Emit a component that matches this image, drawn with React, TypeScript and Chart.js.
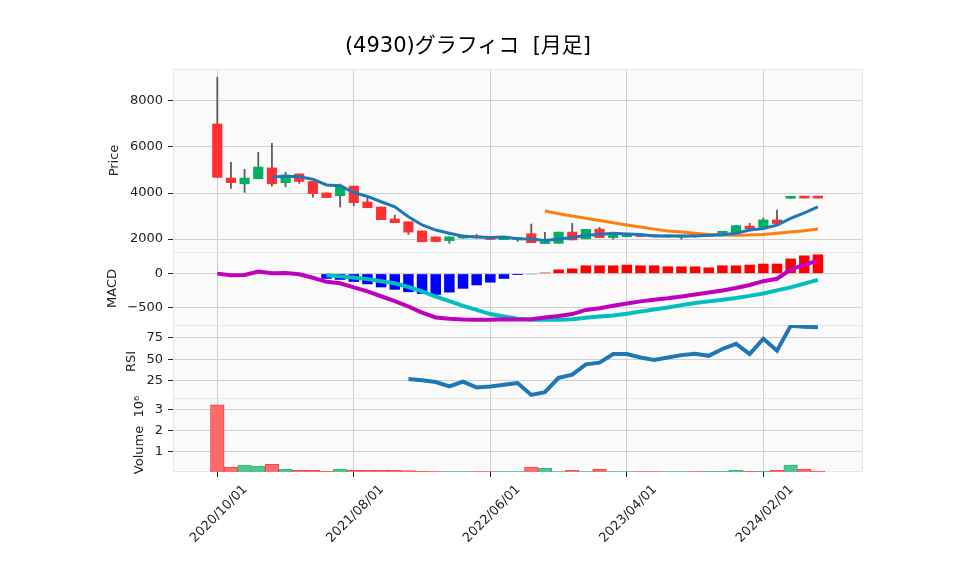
import { useEffect, useRef } from 'react';
import { Chart, registerables } from 'chart.js';
Chart.register(...registerables);

// ---- data (monthly candles 2020/10 .. 2024/06) ----
const tickIdx = [0, 10, 20, 30, 40];
const tickLabels = ['2020/10/01', '2021/08/01', '2022/06/01', '2023/04/01', '2024/02/01'];

const opens = [7000, 4650, 4400, 4620, 5090, 4450, 4830, 4500, 4000, 3880, 4300, 3610, 3390, 2870, 2750, 2350, 2090, 1930, 2040, 2130, 2060, 1970, 1980, 2230, 1800, 1810, 2300, 2010, 2430, 2060, 2100, 2150, 2120, 2090, 2080, 2100, 2120, 2250, 2290, 2560, 2520, 2830, 3770, 3780, 3780];
const highs = [9030, 5335, 5030, 5770, 6160, 4900, 4830, 4500, 4000, 4390, 4300, 3770, 3390, 3040, 2750, 2350, 2090, 2090, 2170, 2200, 2060, 2060, 2010, 2650, 2290, 2300, 2680, 2420, 2510, 2160, 2150, 2150, 2130, 2120, 2100, 2110, 2200, 2330, 2590, 2680, 2910, 3260, 3780, 3780, 3780];
const lows = [4680, 4200, 4030, 4620, 4300, 4270, 4420, 3810, 3800, 3390, 3450, 3360, 2840, 2710, 2200, 1880, 1880, 1810, 2040, 2050, 1970, 1970, 1900, 1840, 1800, 1810, 1960, 2010, 2060, 1990, 2100, 2110, 2090, 2080, 1990, 2090, 2120, 2250, 2290, 2450, 2520, 2670, 3770, 3780, 3780];
const closes = [4680, 4450, 4650, 5130, 4400, 4780, 4500, 3970, 3800, 4270, 3580, 3360, 2840, 2710, 2300, 1880, 1890, 2090, 2170, 2050, 1980, 2060, 2010, 1840, 1840, 2300, 1960, 2420, 2060, 2160, 2140, 2110, 2100, 2110, 2090, 2100, 2150, 2320, 2580, 2450, 2830, 2670, 3780, 3780, 3780];
const volumes = [3.24, 0.23, 0.33, 0.28, 0.37, 0.13, 0.08, 0.08, 0.03, 0.13, 0.08, 0.08, 0.08, 0.08, 0.07, 0.03, 0.02, 0.02, 0.02, 0.02, 0.02, 0.02, 0.02, 0.24, 0.18, 0.02, 0.08, 0.02, 0.13, 0.02, 0.02, 0.02, 0.02, 0.02, 0.02, 0.02, 0.03, 0.03, 0.08, 0.03, 0.03, 0.08, 0.33, 0.13, 0.05];
const ma5 = [null, null, null, null, 4700, 4730, 4710, 4600, 4350, 4320, 4020, 3850, 3620, 3400, 2970, 2610, 2390, 2250, 2120, 2090, 2070, 2090, 2010, 2000, 1930, 2000, 2070, 2160, 2200, 2250, 2220, 2200, 2130, 2130, 2130, 2130, 2160, 2190, 2250, 2390, 2460, 2600, 2900, 3140, 3400];
const ma25 = [null, null, null, null, null, null, null, null, null, null, null, null, null, null, null, null, null, null, null, null, null, null, null, null, 3220, 3100, 3000, 2900, 2800, 2710, 2610, 2520, 2430, 2350, 2300, 2250, 2200, 2170, 2160, 2170, 2200, 2250, 2300, 2360, 2430];
const macdLine = [0, -25, -20, 30, 5, 10, -10, -60, -120, -140, -200, -260, -330, -400, -480, -570, -640, -660, -670, -675, -675, -665, -670, -665, -640, -620, -590, -530, -505, -470, -435, -405, -380, -360, -335, -305, -275, -245, -210, -165, -110, -75, 60, 130, 190];
const signalLine = [null, null, null, null, null, null, null, null, -25, -40, -55, -80, -110, -140, -195, -260, -335, -400, -470, -530, -590, -625, -660, -675, -675, -675, -665, -645, -625, -610, -585, -555, -525, -495, -460, -430, -405, -380, -355, -325, -290, -245, -200, -145, -90];
const histValues = [null, null, null, null, null, null, null, null, -75, -90, -120, -155, -200, -235, -270, -295, -310, -275, -220, -170, -130, -75, -20, -10, 15, 60, 75, 120, 120, 120, 130, 120, 120, 105, 105, 105, 90, 120, 120, 130, 145, 145, 220, 265, 280];
const rsiValues = [null, null, null, null, null, null, null, null, null, null, null, null, null, null, 27, 25.4, 23.4, 18.3, 23.8, 17, 18.2, 20.2, 22.2, 8.3, 11.5, 28.2, 32, 44, 46, 56, 56, 52, 49, 52, 54.8, 56.3, 54, 62, 68, 56, 74, 60, 89, 88, 87.3];

const priceTicks = [2000, 4000, 6000, 8000];
const macdTicks = [-500, 0];
const rsiTicks = [25, 50, 75];
const volTicks = [1, 2, 3];

const FONT = '"DejaVu Sans", "Noto Sans CJK JP", sans-serif';
const UP = '#00b060';
const DOWN = '#fe3032';

const axisTitles: [string, string][] = [
  ['yPrice', 'Price'],
  ['yMacd', 'MACD'],
  ['yRsi', 'RSI'],
  ['yVol', 'Volume  10\u2076'],
];

export default function App() {
  const ref = useRef<HTMLCanvasElement | null>(null);

  useEffect(() => {
    if (!ref.current) return;
    const isUp = (i: number) => closes[i] > opens[i];
    const pts = (arr: (number | null)[]) => arr.map((v, i) => ({ x: i, y: v }));

    const yAxis = (ticks: number[], min: number, max: number, weight: number, stackWeight: number, fmt?: (v: number) => string) => ({
      type: 'linear',
      position: 'left',
      stack: 'panels',
      stackWeight,
      weight,
      min,
      max,
      afterFit: (s: any) => { s.width = 173; },
      afterBuildTicks: (s: any) => { s.ticks = ticks.map((v) => ({ value: v })); },
      border: { display: false },
      grid: { color: '#d0d0d0', lineWidth: 1, tickColor: '#222', tickLength: 5 },
      ticks: {
        color: '#222',
        font: { family: FONT, size: 13 },
        padding: 5,
        callback: (v: number) => (fmt ? fmt(v) : String(v)),
      },
    });

    const bgPlugin = {
      id: 'bg',
      beforeDraw(chart: any) {
        const { ctx, chartArea: a } = chart;
        ctx.save();
        ctx.fillStyle = '#fafafa';
        ctx.fillRect(a.left, a.top, a.right - a.left, a.bottom - a.top);
        ctx.restore();
      },
      beforeDatasetsDraw(chart: any) {
        const { ctx, chartArea: a } = chart;
        ctx.save();
        ctx.strokeStyle = '#e6e6e6';
        ctx.lineWidth = 1;
        ['yPrice', 'yMacd', 'yRsi'].forEach((id) => {
          const s = chart.scales[id];
          ctx.beginPath();
          ctx.moveTo(a.left, Math.round(s.bottom) + 0.5);
          ctx.lineTo(a.right, Math.round(s.bottom) + 0.5);
          ctx.stroke();
        });
        ctx.strokeRect(a.left + 0.5, a.top + 0.5, a.right - a.left - 1, a.bottom - a.top - 1);
        ctx.restore();
      },
      afterDraw(chart: any) {
        const { ctx } = chart;
        ctx.save();
        ctx.font = `13px ${FONT}`;
        ctx.fillStyle = '#222';
        ctx.textAlign = 'center';
        ctx.textBaseline = 'middle';
        axisTitles.forEach(([id, text]) => {
          const s = chart.scales[id];
          let maxW = 0;
          s.ticks.forEach((t: any) => {
            const w = ctx.measureText(String(t.label)).width;
            if (w > maxW) maxW = w;
          });
          const x = s.right - 10 - maxW - 15;
          const y = (s.top + s.bottom) / 2;
          ctx.save();
          ctx.translate(x, y);
          ctx.rotate(-Math.PI / 2);
          ctx.fillText(text, 0, 0);
          ctx.restore();
        });
        ctx.restore();
      },
    };

    const chart = new Chart(ref.current, {
      type: 'bar',
      data: {
        datasets: [
          {
            type: 'line',
            label: 'MA5',
            yAxisID: 'yPrice',
            data: pts(ma5),
            borderColor: '#1f77b4',
            borderWidth: 3,
            pointRadius: 0,
            tension: 0,
            order: 1,
          },
          {
            type: 'line',
            label: 'MA25',
            yAxisID: 'yPrice',
            data: pts(ma25),
            borderColor: '#ff7f0e',
            borderWidth: 3,
            pointRadius: 0,
            tension: 0,
            order: 1,
          },
          {
            type: 'bar',
            label: 'body',
            yAxisID: 'yPrice',
            data: opens.map((o, i) => ({ x: i, y: [o, closes[i]] })),
            backgroundColor: opens.map((_, i) => (isUp(i) ? UP : DOWN)),
            barThickness: 9.5,
            grouped: false,
            minBarLength: 2,
            order: 3,
          },
          {
            type: 'bar',
            label: 'wick',
            yAxisID: 'yPrice',
            data: lows.map((l, i) => ({ x: i, y: [l, highs[i]] })),
            backgroundColor: '#606060',
            barThickness: 1.2,
            grouped: false,
            order: 4,
          },
          {
            type: 'bar',
            label: 'hist',
            yAxisID: 'yMacd',
            data: pts(histValues),
            backgroundColor: histValues.map((v) => ((v ?? 0) >= 0 ? '#ff0000' : '#0000ff')),
            barPercentage: 0.77,
            categoryPercentage: 1,
            grouped: false,
            order: 3,
          },
          {
            type: 'line',
            label: 'MACD',
            yAxisID: 'yMacd',
            data: pts(macdLine),
            borderColor: '#bf00bf',
            borderWidth: 4,
            pointRadius: 0,
            tension: 0,
            order: 1,
          },
          {
            type: 'line',
            label: 'Signal',
            yAxisID: 'yMacd',
            data: pts(signalLine),
            borderColor: '#00bfbf',
            borderWidth: 4,
            pointRadius: 0,
            tension: 0,
            order: 1,
          },
          {
            type: 'line',
            label: 'RSI',
            yAxisID: 'yRsi',
            data: pts(rsiValues),
            borderColor: '#1f77b4',
            borderWidth: 4,
            pointRadius: 0,
            tension: 0,
            order: 1,
          },
          {
            type: 'bar',
            label: 'Volume',
            yAxisID: 'yVol',
            data: pts(volumes),
            backgroundColor: volumes.map((_, i) => (isUp(i) ? '#4dc790' : '#fd6b6c')),
            borderColor: volumes.map((_, i) => (isUp(i) ? '#33b679' : '#f9484a')),
            borderWidth: 1,
            barPercentage: 1,
            categoryPercentage: 1,
            grouped: false,
            order: 3,
          },
        ] as any,
      },
      options: {
        responsive: false,
        animation: false,
        devicePixelRatio: 1,
        layout: { padding: { top: 69, right: 95, left: 0, bottom: 0 } },
        plugins: { legend: { display: false }, tooltip: { enabled: false }, title: { display: false } },
        scales: {
          x: {
            type: 'linear',
            min: -3.245,
            max: 47.3,
            offset: false,
            afterFit: (s: any) => { s.height = 103; },
            afterBuildTicks: (s: any) => { s.ticks = tickIdx.map((v) => ({ value: v })); },
            border: { display: false },
            grid: { color: '#d0d0d0', lineWidth: 1, tickColor: '#222', tickLength: 5, offset: false },
            ticks: {
              autoSkip: false,
              minRotation: 45,
              maxRotation: 45,
              color: '#222',
              font: { family: FONT, size: 13 },
              padding: 5,
              labelOffset: 28,
              callback: (_v: any, i: number) => tickLabels[i] ?? '',
            },
          },
          yPrice: yAxis(priceTicks, 1435, 9391, 4, 183),
          yMacd: yAxis(macdTicks, -750, 316, 3, 73, (v) => (v < 0 ? '\u2212' + Math.abs(v) : String(v))),
          yRsi: yAxis(rsiTicks, 4.7, 90, 2, 73),
          yVol: yAxis(volTicks, 0, 3.57, 1, 74),
        } as any,
      },
      plugins: [bgPlugin],
    });
    return () => chart.destroy();
  }, []);

  return (
    <div style={{ position: 'fixed', left: 0, top: 0, width: 958, height: 575, background: '#fff' }}>
      <canvas ref={ref} width={958} height={575} style={{ position: 'absolute', left: 0, top: 0 }} />
      <div
        style={{
          position: 'absolute',
          left: 0,
          top: 31,
          width: 936,
          textAlign: 'center',
          whiteSpace: 'pre',
          fontFamily: FONT,
          fontSize: 21,
          lineHeight: '28px',
          color: '#000',
          pointerEvents: 'none',
        }}
      >
        (4930)グラフィコ  [月足]
      </div>
    </div>
  );
}
